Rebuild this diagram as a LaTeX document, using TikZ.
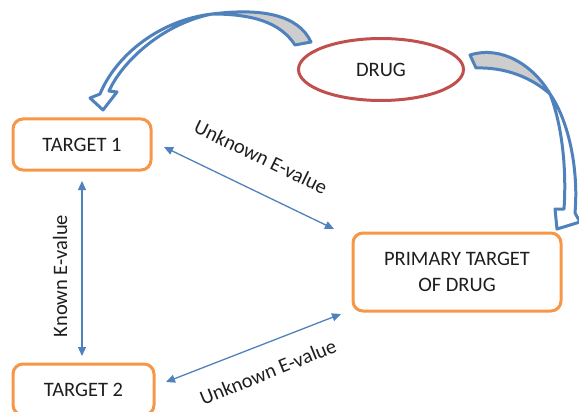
\documentclass[tikz,border=0pt]{standalone}
\usepackage{fontspec}
\setmainfont{Carlito}
\usetikzlibrary{arrows.meta,shapes.geometric,calc}
\definecolor{orng}{RGB}{247,150,70}
\definecolor{rd}{RGB}{192,80,77}
\definecolor{blu}{RGB}{79,129,189}
\definecolor{txt}{RGB}{30,30,30}
\definecolor{gry}{RGB}{205,205,205}
\begin{document}
\begin{tikzpicture}[x=1pt,y=-1pt,
  lbl/.style={text=txt, font=\fontsize{20.5}{26}\selectfont, inner sep=0pt},
  tbox/.style={lbl, draw=orng, line width=3pt, rounded corners=10pt, align=center, outer sep=0pt},
  drugnode/.style={lbl, ellipse, draw=rd, line width=3pt, minimum width=165pt, minimum height=62pt, outer sep=0pt},
  conn/.style={draw=blu, line width=1.3pt, {Triangle[length=9pt,width=8pt]}-{Triangle[length=9pt,width=8pt]}},
  barrow/.style={draw=blu, line width=3pt, line join=round},
]
\useasboundingbox (0,0) rectangle (579,412);
\clip (0,0) rectangle (579,412);

% nodes
\node[tbox, minimum width=138pt, minimum height=51pt] (t1) at (82,144.5) {TARGET 1};
\node[tbox, minimum width=141pt, minimum height=51pt] (t2) at (83.5,389.5) {TARGET 2};
\node[tbox, minimum width=208pt, minimum height=78pt] (pt) at (457,272) {PRIMARY TARGET\\OF DRUG};
\node[drugnode] (drug) at (381,69.5) {DRUG};

% thin connectors
\draw[conn] ([yshift=-11pt]t1.south) -- ([yshift=8pt,xshift=-1.5pt]t2.north);
\draw[conn] ([xshift=13pt,yshift=-2.5pt]t1.east) -- ([xshift=-19pt,yshift=4pt]pt.north west);
\draw[conn] ([xshift=12pt,yshift=7.5pt]t2.east) -- ([xshift=-12pt,yshift=-3pt]pt.south west);

% labels
\node[lbl, rotate=90] (lk) at (60,276) {Known E-value};
\node[lbl, rotate=-26] (lu1) at (261,157) {Unknown E-value};
\node[lbl, rotate=22] (lu2) at (268,372) {Unknown E-value};

% curved block arrow: drug -> target 1
\draw[barrow, fill=gry] (311,42) .. controls (298,14) and (260,8) .. (212,14)
   .. controls (252,14) and (280,22) .. (295,45) -- cycle;
\draw[barrow, fill=white] (212,14) .. controls (160,20) and (116,55) .. (100,94)
   -- (90,98) -- (103,110) -- (117,92) -- (109,91)
   .. controls (122,62) and (162,24) .. (212,14) -- cycle;

% curved block arrow: drug -> primary target
\draw[barrow, fill=gry] (470,55) .. controls (502,45) and (534,66) .. (550,94)
   .. controls (532,78) and (506,67) .. (476,68) -- cycle;
\draw[barrow, fill=white] (550,94) .. controls (567,118) and (579,165) .. (575,213)
   -- (580,222) -- (557,229) -- (555,209) -- (564,209)
   .. controls (567,165) and (561,122) .. (550,94) -- cycle;
\end{tikzpicture}
\end{document}
